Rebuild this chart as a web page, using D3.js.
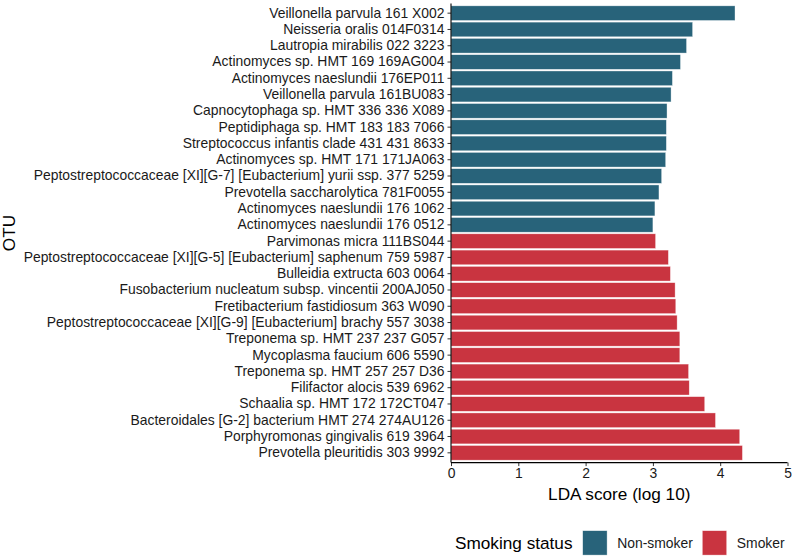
<!DOCTYPE html>
<html>
<head>
<meta charset="utf-8">
<script src="https://cdn.jsdelivr.net/npm/d3@7"></script>
<style>
  html, body { margin: 0; padding: 0; background: #fff; }
  svg { display: block; }
  text { font-family: "Liberation Sans", Arial, Helvetica, sans-serif; }
</style>
</head>
<body>
<svg id="chart" width="794" height="559"></svg>
<script>
// ---- Data ----
const otus = [
  "Veillonella parvula 161 X002",
  "Neisseria oralis 014F0314",
  "Lautropia mirabilis 022 3223",
  "Actinomyces sp. HMT 169 169AG004",
  "Actinomyces naeslundii 176EP011",
  "Veillonella parvula 161BU083",
  "Capnocytophaga sp. HMT 336 336 X089",
  "Peptidiphaga sp. HMT 183 183 7066",
  "Streptococcus infantis clade 431 431 8633",
  "Actinomyces sp. HMT 171 171JA063",
  "Peptostreptococcaceae [XI][G-7] [Eubacterium] yurii ssp. 377 5259",
  "Prevotella saccharolytica 781F0055",
  "Actinomyces naeslundii 176 1062",
  "Actinomyces naeslundii 176 0512",
  "Parvimonas micra 111BS044",
  "Peptostreptococcaceae [XI][G-5] [Eubacterium] saphenum 759 5987",
  "Bulleidia extructa 603 0064",
  "Fusobacterium nucleatum subsp. vincentii 200AJ050",
  "Fretibacterium fastidiosum 363 W090",
  "Peptostreptococcaceae [XI][G-9] [Eubacterium] brachy 557 3038",
  "Treponema sp. HMT 237 237 G057",
  "Mycoplasma faucium 606 5590",
  "Treponema sp. HMT 257 257 D36",
  "Filifactor alocis 539 6962",
  "Schaalia sp. HMT 172 172CT047",
  "Bacteroidales [G-2] bacterium HMT 274 274AU126",
  "Porphyromonas gingivalis 619 3964",
  "Prevotella pleuritidis 303 9992"
];
const ldaScores = [
  4.22, 3.59, 3.50, 3.41, 3.29, 3.27, 3.21, 3.20, 3.20, 3.19, 3.13, 3.09, 3.03, 3.00,
  3.04, 3.23, 3.26, 3.33, 3.34, 3.36, 3.40, 3.40, 3.53, 3.54, 3.77, 3.93, 4.29, 4.33
];
const groups = [
  "Non-smoker","Non-smoker","Non-smoker","Non-smoker","Non-smoker","Non-smoker","Non-smoker",
  "Non-smoker","Non-smoker","Non-smoker","Non-smoker","Non-smoker","Non-smoker","Non-smoker",
  "Smoker","Smoker","Smoker","Smoker","Smoker","Smoker","Smoker",
  "Smoker","Smoker","Smoker","Smoker","Smoker","Smoker","Smoker"
];
const groupNames = ["Non-smoker", "Smoker"];
const groupColors = ["#28637a", "#c93440"];
const xTicks = [0, 1, 2, 3, 4, 5];

const data = otus.map((d, i) => ({ otu: d, score: ldaScores[i], group: groups[i] }));

// ---- Layout ----
const svg = d3.select("#chart");
const plot = { left: 451, right: 787.5, top: 3.4, bottom: 462.6 };
const tickFont = "13.9px";
const titleFont = "17.2px";

const x = d3.scaleLinear().domain([0, 5]).range([plot.left, plot.right]);
const y = d3.scaleBand().domain(otus).range([plot.top, plot.bottom])
  .paddingInner(0.1).paddingOuter(0.15);
const color = d3.scaleOrdinal().domain(groupNames).range(groupColors);

// bars
svg.append("g").selectAll("rect").data(data).join("rect")
  .attr("x", x(0))
  .attr("y", d => y(d.otu))
  .attr("width", d => x(d.score) - x(0))
  .attr("height", y.bandwidth())
  .attr("fill", d => color(d.group))
  .attr("stroke", "#ffffff")
  .attr("stroke-opacity", 0.6)
  .attr("stroke-width", 0.6);

// y axis
const yAxis = svg.append("g")
  .attr("transform", `translate(${plot.left},0)`)
  .call(d3.axisLeft(y).tickSize(3.5).tickPadding(3));
yAxis.select(".domain").remove();
yAxis.selectAll(".tick line").attr("stroke", "#333").attr("stroke-width", 1);
yAxis.selectAll(".tick text")
  .attr("fill", "#1a1a1a")
  .style("font-size", tickFont)
  .style("font-family", '"Liberation Sans", Arial, sans-serif');

// x axis
const xAxis = svg.append("g")
  .attr("transform", `translate(0,${plot.bottom})`)
  .call(d3.axisBottom(x).tickValues(xTicks).tickFormat(d3.format("d")).tickSize(3.5).tickPadding(2));
xAxis.select(".domain").remove();
xAxis.selectAll(".tick line").attr("stroke", "#333").attr("stroke-width", 1);
xAxis.selectAll(".tick text")
  .attr("fill", "#1a1a1a")
  .style("font-size", tickFont)
  .style("font-family", '"Liberation Sans", Arial, sans-serif');

// axis lines
svg.append("line")
  .attr("x1", plot.left).attr("x2", plot.left)
  .attr("y1", plot.top).attr("y2", plot.bottom)
  .attr("stroke", "#000").attr("stroke-width", 1.1);
svg.append("line")
  .attr("x1", plot.left).attr("x2", plot.right)
  .attr("y1", plot.bottom).attr("y2", plot.bottom)
  .attr("stroke", "#000").attr("stroke-width", 1.1);

// axis titles
svg.append("text")
  .attr("x", (plot.left + plot.right) / 2)
  .attr("y", 500)
  .attr("text-anchor", "middle")
  .attr("fill", "#000")
  .style("font-size", titleFont)
  .text("LDA score (log 10)");

svg.append("text")
  .attr("transform", `translate(14.5,${(plot.top + plot.bottom) / 2}) rotate(-90)`)
  .attr("text-anchor", "middle")
  .attr("fill", "#000")
  .style("font-size", titleFont)
  .text("OTU");

// legend
const legend = svg.append("g");
legend.append("text")
  .attr("x", 455).attr("y", 549)
  .attr("fill", "#000")
  .style("font-size", titleFont)
  .text("Smoking status");

const keyX = [582.7, 702.3];
groupNames.forEach((g, i) => {
  legend.append("rect")
    .attr("x", keyX[i]).attr("y", 530.7)
    .attr("width", 24.4).attr("height", 24.4)
    .attr("fill", color(g))
    .attr("stroke", "#ffffff").attr("stroke-opacity", 0.6).attr("stroke-width", 0.6);
  legend.append("text")
    .attr("x", keyX[i] + 34.5).attr("y", 547.5)
    .attr("fill", "#1a1a1a")
    .style("font-size", tickFont)
    .text(g);
});
</script>
</body>
</html>
